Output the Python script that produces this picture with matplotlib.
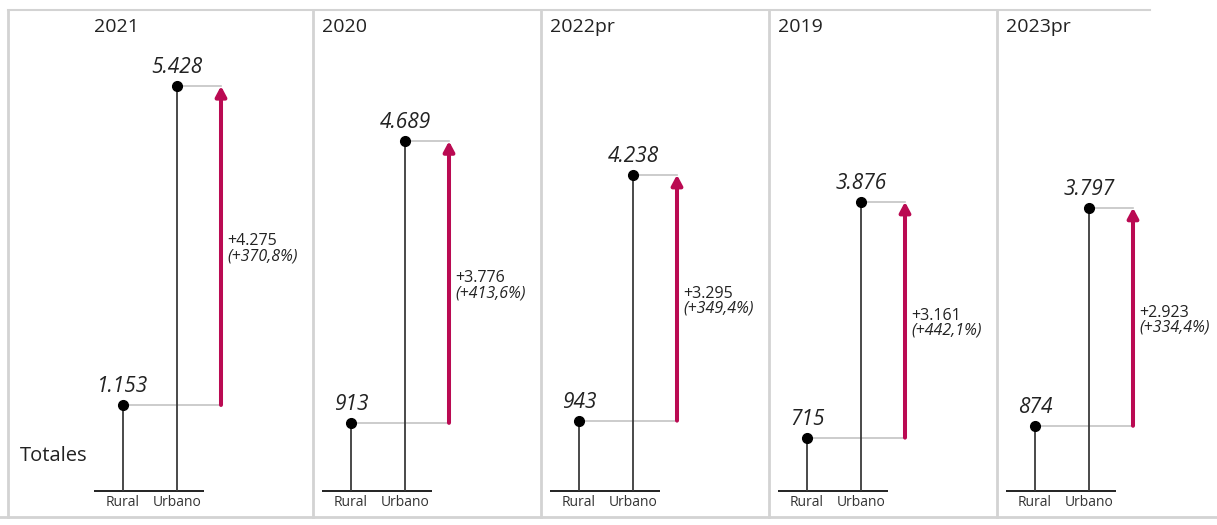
import matplotlib
matplotlib.use("Agg")
import matplotlib.pyplot as plt
from matplotlib.lines import Line2D

years = ["2021", "2020", "2022pr", "2019", "2023pr"]
rural = [1153, 913, 943, 715, 874]
urbano = [5428, 4689, 4238, 3876, 3797]
diff = [4275, 3776, 3295, 3161, 2923]
pct = ["+370,8%", "+413,6%", "+349,4%", "+442,1%", "+334,4%"]
cats = ["Rural", "Urbano"]
row_label = "Totales"

FONT = ["Open Sans", "DejaVu Sans"]
plt.rcParams["font.family"] = FONT

W, H = 1217, 525
fig = plt.figure(figsize=(W / 100, H / 100), dpi=100)
fig.patch.set_facecolor("white")

def fmt(v):
    return f"{v:,}".replace(",", ".")

# panel geometry (pixels)
panel_lefts = [86, 314, 542, 770, 998]
PW = 228
base_y = 491
top_y = 10
px_per_unit = (491 - 86) / 5428.0
ymax = (base_y - top_y) / px_per_unit
unit = 54.0  # px between Rural and Urbano
crimson = "#BA0A52"

for i, left in enumerate(panel_lefts):
    ax_l = left + 8
    ax_r = left + PW - 2
    ax = fig.add_axes([ax_l / W, (H - base_y) / H, (ax_r - ax_l) / W, (base_y - top_y) / H])
    ax.set_xlim((8 - 37) / unit, (PW - 2 - 37) / unit)
    ax.set_ylim(0, ymax)
    ax.axis("off")
    xs = [0, 1]
    xa = (135 - 37) / unit
    vals = [rural[i], urbano[i]]
    # baseline
    ax.plot([(8 - 37) / unit, (118 - 37) / unit], [0, 0], color="#222222", lw=1.4,
            solid_capstyle="butt", clip_on=False)
    # connectors
    for x, v in zip(xs, vals):
        ax.plot([x, xa], [v, v], color="#c4c4c4", lw=1.2, zorder=1)
    # stems
    for x, v in zip(xs, vals):
        ax.plot([x, x], [0, v], color="#3a3a3a", lw=1.3, zorder=2)
    ax.plot(xs, vals, "o", color="black", ms=7, zorder=3)
    for x, v in zip(xs, vals):
        ax.text(x, v + 8 / px_per_unit, fmt(v), ha="center", va="bottom",
                fontsize=15, style="italic", color="#222222")
    # arrow
    ax.annotate("", xy=(xa, urbano[i]), xytext=(xa, rural[i]),
                arrowprops=dict(arrowstyle="-|>,head_length=0.6,head_width=0.32",
                                color=crimson, lw=2.9, shrinkA=0, shrinkB=0))
    mid = (urbano[i] + rural[i]) / 2
    ax.text(xa + 6 / unit, mid - 4 / px_per_unit, "+" + fmt(diff[i]), ha="left", va="bottom",
            fontsize=11.5, color="#222222")
    ax.text(xa + 6 / unit, mid - 3 / px_per_unit, "(" + pct[i] + ")", ha="left", va="top",
            fontsize=11.5, style="italic", color="#222222")
    # category labels
    for x, c in zip(xs, cats):
        ax.text(x, -4 / px_per_unit, c, ha="center", va="top", fontsize=10, color="#333333")
    # year title
    fig.text((left + 8) / W, 1 - 27 / H, years[i], ha="left", va="center",
             fontsize=14, color="#222222")

fig.text(20 / W, 1 - 456 / H, row_label, ha="left", va="center", fontsize=14.5, color="#222222")

# panel borders
gray = "#d3d3d3"
def fl(x0, y0, x1, y1, lw=2):
    fig.add_artist(Line2D([x0 / W, x1 / W], [1 - y0 / H, 1 - y1 / H], color=gray, lw=lw,
                          transform=fig.transFigure))
fl(8, 10, 1150, 10, lw=1.5)
fl(8, 10, 8, 517)
fl(0, 517, W, 517)
for x in [313, 541, 769, 997]:
    fl(x, 10, x, 517)

fig.savefig("out.png", dpi=100, facecolor="white")
